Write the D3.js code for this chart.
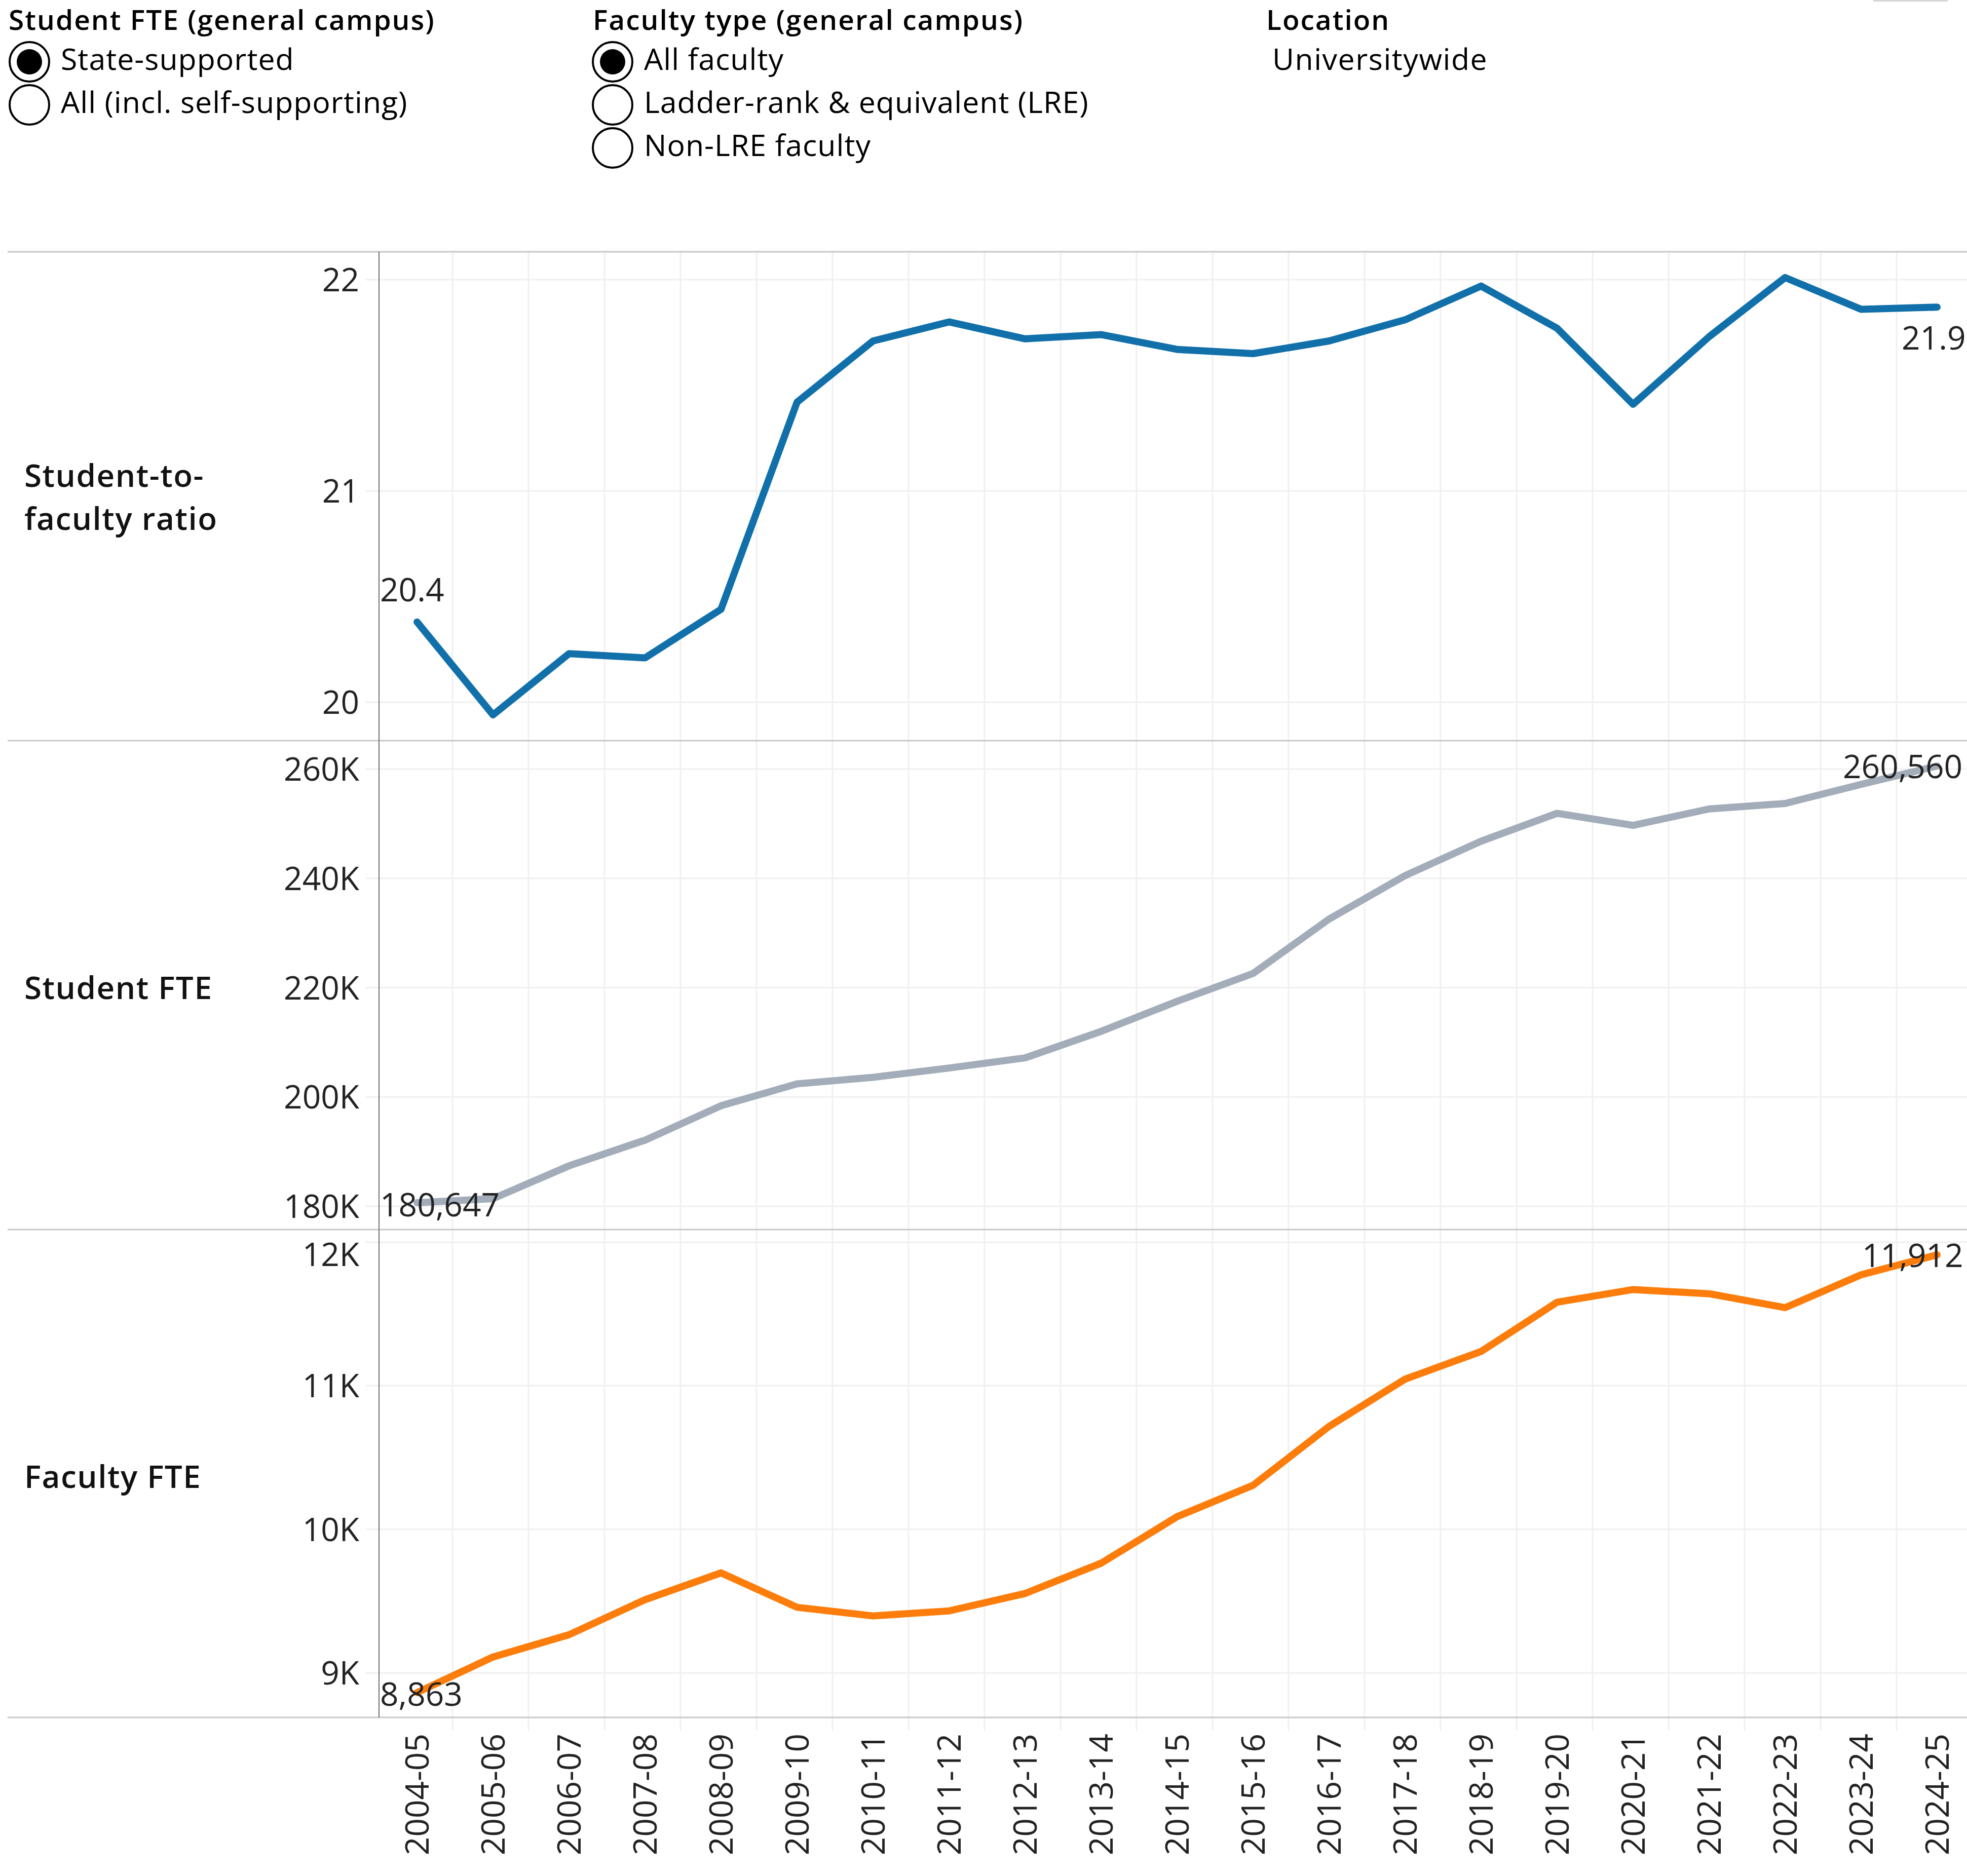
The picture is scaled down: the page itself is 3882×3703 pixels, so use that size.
<!DOCTYPE html>
<html>
<head>
<meta charset="utf-8">
<script src="https://cdn.jsdelivr.net/npm/d3@7"></script>
<style>
  body { margin: 0; background: #fff; }
  svg { display: block; font-family: "Open Sans", "Noto Sans", sans-serif; }
</style>
</head>
<body>
<svg id="chart" width="3882" height="3703"></svg>
<script>
// academic years on the x axis
var years = ["2004-05","2005-06","2006-07","2007-08","2008-09","2009-10","2010-11","2011-12",
    "2012-13","2013-14","2014-15","2015-16","2016-17","2017-18","2018-19","2019-20",
    "2020-21","2021-22","2022-23","2023-24","2024-25"];

// values
var ratioValues = [20.38, 19.94, 20.23, 20.21, 20.44, 21.42, 21.71, 21.80, 21.72, 21.74, 21.67,
    21.65, 21.71, 21.81, 21.97, 21.77, 21.41, 21.73, 22.01, 21.86, 21.87];
var studentValues = [180647, 181400, 187400, 192100, 198400, 202400, 203600, 205300, 207150, 212000,
    217500, 222600, 232550, 240500, 246800, 251900, 249700, 252700, 253700, 257200, 260560];
var facultyValues = [8863, 9111, 9266, 9510, 9697, 9457, 9397, 9432, 9553, 9764, 10088,
    10307, 10717, 11046, 11239, 11582, 11670, 11641, 11544, 11773, 11912];

var ratioTicks = [20, 21, 22];
var studentTicks = [180000, 200000, 220000, 240000, 260000];
var facultyTicks = [9000, 10000, 11000, 12000];

var studentOptions = ["State-supported", "All (incl. self-supporting)"];
var facultyOptions = ["All faculty", "Ladder-rank & equivalent (LRE)", "Non-LRE faculty"];

var W = 3882;
var svg = d3.select("#chart");
var axisX = 748;

var x = d3.scalePoint().domain(years).range([823, 3823]);

var panels = [
    {label: ["Student-to-", "faculty ratio"], labelY: 961, values: ratioValues, ticks: ratioTicks,
     top: 497, bottom: 1462, domain: [19.818, 22.132], color: "#1170aa",
     fmt: function (d) { return d3.format("d")(d); },
     first: {text: "20.4", x: 750, y: 1187},
     last: {text: "21.9", x: 3753, y: 690}},
    {label: ["Student FTE"], labelY: 1972, values: studentValues, ticks: studentTicks,
     top: 1462, bottom: 2427, domain: [175740, 265190], color: "#a3acb9",
     fmt: function (d) { return (d / 1000) + "K"; },
     first: {text: "180,647", x: 750, y: 2401},
     last: {text: "260,560", x: 3637, y: 1536}},
    {label: ["Faculty FTE"], labelY: 2937, values: facultyValues, ticks: facultyTicks,
     top: 2427, bottom: 3390, domain: [8690, 12088], color: "#fc7d0b",
     fmt: function (d) { return (d / 1000) + "K"; },
     first: {text: "8,863", x: 750, y: 3367},
     last: {text: "11,912", x: 3675, y: 2501}}
];

/* ---------- header controls ---------- */
function drawTitle(t, left) {
    svg.append("text").attr("x", left).attr("y", 59)
        .attr("font-size", 55).attr("font-weight", 600).attr("letter-spacing", 2)
        .attr("fill", "#000").text(t);
}

function drawRadioGroup(title, options, left, textLeft) {
    drawTitle(title, left);
    options.forEach(function (opt, i) {
        var cy = 122 + i * 85;
        svg.append("circle").attr("cx", textLeft - 62).attr("cy", cy).attr("r", 39)
            .attr("fill", "#fff").attr("stroke", "#000").attr("stroke-width", 4);
        if (i === 0)
            svg.append("circle").attr("cx", textLeft - 62).attr("cy", cy).attr("r", 25).attr("fill", "#000");
        svg.append("text").attr("x", textLeft).attr("y", cy + 16)
            .attr("font-size", 59).attr("letter-spacing", 1).attr("fill", "#000").text(opt);
    });
}

drawRadioGroup("Student FTE (general campus)", studentOptions, 17, 120);
drawRadioGroup("Faculty type (general campus)", facultyOptions, 1170, 1271);

drawTitle("Location", 2499);
svg.append("text").attr("x", 2511).attr("y", 138).attr("font-size", 59)
    .attr("letter-spacing", 1.5).text("Universitywide");
svg.append("rect").attr("x", 3697).attr("y", 0).attr("width", 147).attr("height", 3).attr("fill", "#d4d4d4");

/* ---------- panels ---------- */
var grid = svg.append("g");
var marks = svg.append("g");

// vertical gridlines between the year bands (they run past the last panel as ticks)
grid.selectAll("line.vgrid").data(years).enter().append("line")
    .attr("x1", function (d) { return x(d) + 70; })
    .attr("x2", function (d) { return x(d) + 70; })
    .attr("y1", 497).attr("y2", 3416)
    .attr("stroke", "#f0f0f0").attr("stroke-width", 3);

panels.forEach(function (p) {
    var y = d3.scaleLinear().domain(p.domain).range([p.bottom, p.top]);

    grid.selectAll(null).data(p.ticks).enter().append("line")
        .attr("x1", 722).attr("x2", W)
        .attr("y1", function (d) { return y(d); })
        .attr("y2", function (d) { return y(d); })
        .attr("stroke", "#f0f0f0").attr("stroke-width", 3);

    // tick labels, the top one is pushed down so it stays inside the pane
    marks.selectAll(null).data(p.ticks).enter().append("text")
        .attr("x", 709)
        .attr("y", function (d) { return Math.max(y(d), p.top + 49); })
        .attr("dy", "0.36em").attr("text-anchor", "end")
        .attr("font-size", 64).attr("fill", "#222")
        .text(p.fmt);

    p.label.forEach(function (t, i) {
        marks.append("text").attr("x", 48).attr("y", p.labelY + i * 85)
            .attr("font-size", 62).attr("font-weight", 600).attr("letter-spacing", 1.5)
            .attr("fill", "#111").text(t);
    });

    var line = d3.line()
        .x(function (d, i) { return x(years[i]); })
        .y(function (d) { return y(d); });

    marks.append("path").datum(p.values)
        .attr("d", line).attr("fill", "none")
        .attr("stroke", p.color).attr("stroke-width", 14)
        .attr("stroke-linejoin", "round").attr("stroke-linecap", "round");

    [p.first, p.last].forEach(function (l) {
        marks.append("text").attr("x", l.x).attr("y", l.y)
            .attr("font-size", 64).attr("fill", "#222").text(l.text);
    });
});

// pane borders and the axis line
svg.selectAll("line.border").data([497, 1462, 2427, 3390]).enter().append("line")
    .attr("x1", 15).attr("x2", W)
    .attr("y1", function (d) { return d; }).attr("y2", function (d) { return d; })
    .attr("stroke", "#c8c8c8").attr("stroke-width", 3);

svg.append("line").attr("x1", axisX).attr("x2", axisX).attr("y1", 497).attr("y2", 3390)
    .attr("stroke", "#6e6e6e").attr("stroke-width", 2);

/* ---------- x axis labels ---------- */
svg.selectAll("text.year").data(years).enter().append("text")
    .attr("transform", function (d) { return "translate(" + x(d) + ",3422) rotate(-90)"; })
    .attr("text-anchor", "end").attr("dy", "0.36em")
    .attr("font-size", 64).attr("fill", "#222")
    .text(function (d) { return d; });
</script>
</body>
</html>
